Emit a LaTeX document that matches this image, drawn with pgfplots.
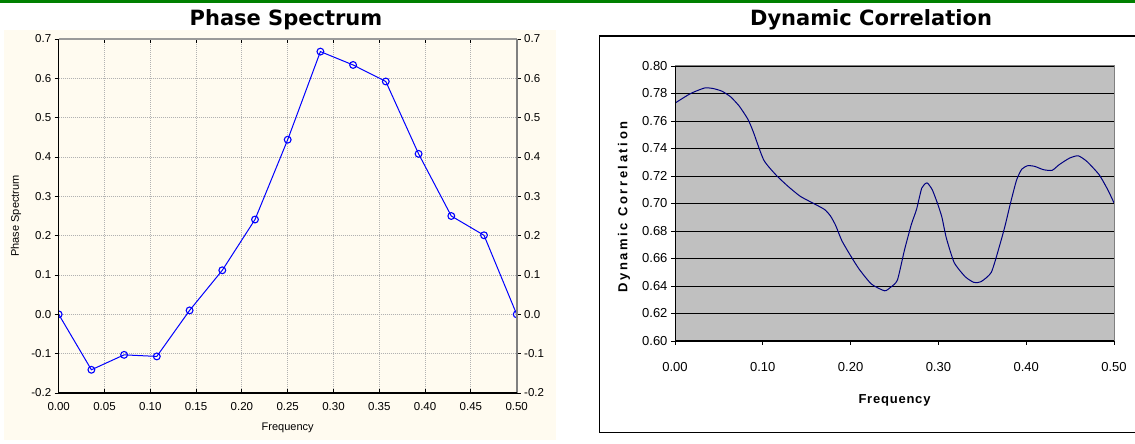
\documentclass[border=0pt]{standalone}
\usepackage{pgfplots}
\pgfplotsset{compat=1.18}
\usepackage{fontspec}
\setmainfont{Liberation Sans}
\newfontfamily\titlefont{DejaVu Sans}

\definecolor{topgreen}{RGB}{0,128,0}
\definecolor{cream}{RGB}{255,251,240}
\definecolor{plotgray}{RGB}{192,192,192}
\definecolor{bordergray}{RGB}{128,128,128}
\definecolor{curvenavy}{RGB}{0,0,128}
\definecolor{phaseblue}{RGB}{0,0,255}

\begin{document}
\begin{tikzpicture}[x=1pt,y=1pt]
\path[use as bounding box] (0,0) rectangle (1135,444);
\fill[white] (0,0) rectangle (1135,444);
\fill[topgreen] (0,441.3) rectangle (1135,444);
\fill[cream] (4,4) rectangle (556,414);

% titles
\node[font=\titlefont\bfseries\fontsize{21}{24}\selectfont, anchor=base] at (286,418.5) {Phase Spectrum};
\node[font=\titlefont\bfseries\fontsize{21}{24}\selectfont, anchor=base] at (871,418.5) {Dynamic Correlation};

% ---------------- phase spectrum ----------------
\begin{axis}[
  name=L,
  at={(58.7pt,51pt)}, anchor=south west,
  scale only axis, width=458pt, height=354pt,
  xmin=0, xmax=0.5, ymin=-0.2, ymax=0.7,
  xtick={0,0.05,0.1,0.15,0.2,0.25,0.3,0.35,0.4,0.45,0.5},
  xticklabels={0.00,0.05,0.10,0.15,0.20,0.25,0.30,0.35,0.40,0.45,0.50},
  ytick={-0.2,-0.1,0,0.1,0.2,0.3,0.4,0.5,0.6,0.7},
  yticklabels={-0.2,-0.1,0.0,0.1,0.2,0.3,0.4,0.5,0.6,0.7},
  axis line style={draw=none},
  grid=major,
  major grid style={draw=gray!60, dash pattern=on 1pt off 1pt, line width=0.8pt},
  xtick align=inside, ytick align=outside,
  xtick pos=both, ytick pos=left,
  major tick length=4pt,
  tick style={black, line width=0.8pt},
  ticklabel style={font=\fontsize{11.5}{13}\selectfont},
  xticklabel style={yshift=-6pt},
  xlabel={Frequency}, ylabel={Phase Spectrum},
  label style={font=\fontsize{11}{13}\selectfont},
  xlabel style={at={(axis description cs:0.5,-0.099)}, anchor=center},
  ylabel style={at={(axis description cs:-0.093,0.5)}, anchor=center},
  clip marker paths=true,
]
\addplot[phaseblue, line width=1pt, mark=o, mark size=3.4pt,
  mark options={fill=white, solid, line width=1.1pt}] coordinates {
  (0.0000,0.000) (0.0357,-0.141) (0.0714,-0.103) (0.1071,-0.107)
  (0.1429,0.010) (0.1786,0.112) (0.2143,0.241) (0.2500,0.444)
  (0.2857,0.668) (0.3214,0.634) (0.3571,0.592) (0.3929,0.408)
  (0.4286,0.250) (0.4643,0.201) (0.5000,0.000)
};
\end{axis}
% right-hand tick labels
\begin{axis}[
  at={(58.7pt,51pt)}, anchor=south west,
  scale only axis, width=458pt, height=354pt,
  xmin=0, xmax=0.5, ymin=-0.2, ymax=0.7,
  xtick=\empty,
  ytick={-0.2,-0.1,0,0.1,0.2,0.3,0.4,0.5,0.6,0.7},
  yticklabels={-0.2,-0.1,0.0,0.1,0.2,0.3,0.4,0.5,0.6,0.7},
  axis line style={draw=none},
  ytick align=outside, ytick pos=right, yticklabel pos=right,
  major tick length=4pt,
  tick style={black, line width=0.8pt},
  ticklabel style={font=\fontsize{11.5}{13}\selectfont},
]
\addplot[draw=none] coordinates {(0,0)};
\end{axis}
\draw[bordergray!80, line width=1.5pt] (L.north west) -- (L.north east);
\draw[bordergray, line width=2pt] (L.south east) -- (L.north east);
\draw[black, line width=1.2pt] (L.north west) -- (L.south west) -- (L.south east);

% ---------------- dynamic correlation ----------------
\draw[black, line width=1.3pt] (599.5,11.5) rectangle (1145,408);
\begin{axis}[
  name=R,
  at={(675pt,103pt)}, anchor=south west,
  scale only axis, width=439pt, height=275pt,
  xmin=0, xmax=0.5, ymin=0.6, ymax=0.8,
  axis background/.style={fill=plotgray},
  xtick={0,0.1,0.2,0.3,0.4,0.5},
  xticklabels={0.00,0.10,0.20,0.30,0.40,0.50},
  ytick={0.6,0.62,0.64,0.66,0.68,0.7,0.72,0.74,0.76,0.78,0.8},
  yticklabels={0.60,0.62,0.64,0.66,0.68,0.70,0.72,0.74,0.76,0.78,0.80},
  ymajorgrids,
  major grid style={black, line width=0.9pt},
  tick align=outside, xtick pos=bottom, ytick pos=left,
  major tick length=4pt,
  tick style={black, line width=0.8pt},
  axis line style={draw=none},
  ticklabel style={font=\fontsize{13}{15}\selectfont},
  xticklabel style={yshift=-14pt},
  xlabel={Frequency}, ylabel={Dynamic Correlation},
  xlabel style={font=\bfseries\fontsize{13}{15}\selectfont\addfontfeature{LetterSpace=6},
    at={(axis description cs:0.5,-0.2145)}, anchor=center},
  ylabel style={font=\bfseries\fontsize{13}{15}\selectfont\addfontfeature{LetterSpace=20},
    at={(axis description cs:-0.116,0.487)}, anchor=center},
]
\addplot[curvenavy, line width=1pt, smooth, tension=0.35] coordinates {
  (0.0000,0.7730) (0.0178,0.7800) (0.0337,0.7840) (0.0435,0.7836)
  (0.0534,0.7817) (0.0633,0.7776) (0.0732,0.7708) (0.0831,0.7612)
  (0.0891,0.7522) (0.1010,0.7317) (0.1148,0.7209) (0.1287,0.7125)
  (0.1425,0.7053) (0.1564,0.7005) (0.1702,0.6957) (0.1770,0.6910)
  (0.1830,0.6840) (0.1900,0.6730) (0.2000,0.6620) (0.2098,0.6522)
  (0.2237,0.6414) (0.2387,0.6365) (0.2454,0.6390) (0.2533,0.6443)
  (0.2613,0.6660) (0.2692,0.6848) (0.2751,0.6957) (0.2811,0.7113)
  (0.2870,0.7150) (0.2930,0.7100) (0.2990,0.7000) (0.3040,0.6900)
  (0.3090,0.6750) (0.3180,0.6570) (0.3306,0.6467) (0.3405,0.6426)
  (0.3484,0.6431) (0.3603,0.6500) (0.3700,0.6700) (0.3760,0.6840)
  (0.3820,0.7000) (0.3890,0.7170) (0.3950,0.7250) (0.4018,0.7275)
  (0.4097,0.7270) (0.4196,0.7246) (0.4295,0.7241) (0.4375,0.7282)
  (0.4493,0.7330) (0.4592,0.7347) (0.4691,0.7306) (0.4830,0.7210)
  (0.4929,0.7100) (0.5000,0.7005)
};
\end{axis}
\draw[bordergray, line width=1pt] (R.north west) -- (R.north east) -- (R.south east);
\draw[black, line width=1pt] (R.north west) -- (R.south west) -- (R.south east);
\end{tikzpicture}
\end{document}
